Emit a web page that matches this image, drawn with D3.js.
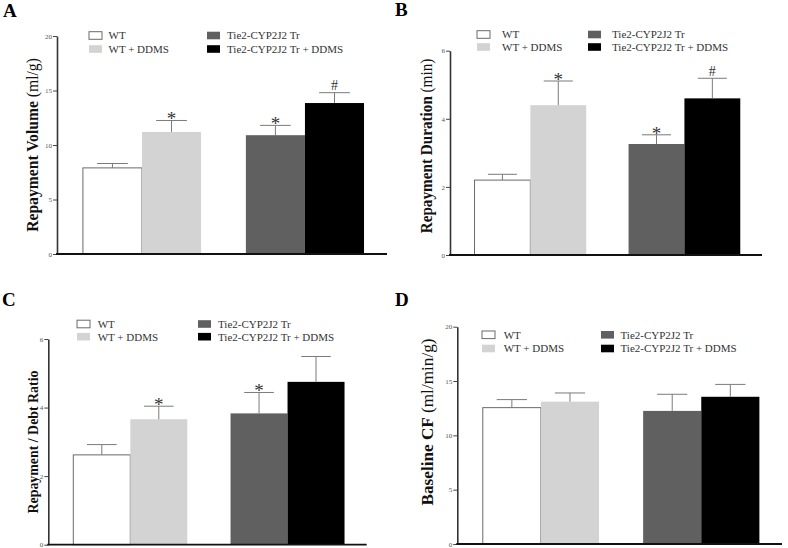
<!DOCTYPE html>
<html>
<head>
<meta charset="utf-8">
<script src="https://cdn.jsdelivr.net/npm/d3@7"></script>
<style>
  body { margin: 0; background: #fff; }
  svg { display: block; }
  text { font-family: "Liberation Serif", "Times New Roman", serif; }
</style>
</head>
<body>
<svg id="chart" width="788" height="548"></svg>
<script>
// groups in the legend / bar order
const groups = ["WT", "WT + DDMS", "Tie2-CYP2J2 Tr", "Tie2-CYP2J2 Tr + DDMS"];
const clusters = ["WT", "Tr"];

// A: repayment volume
const volumeMean = [7.9, 11.2, 10.9, 13.85];
const volumeSem = [0.4, 1.05, 0.9, 0.95];
const volumeMarks = ["", "*", "*", "#"];
const volumeTicks = [0, 5, 10, 15, 20];

// B: repayment duration
const durationMean = [2.2, 4.4, 3.26, 4.6];
const durationSem = [0.17, 0.71, 0.27, 0.59];
const durationMarks = ["", "*", "*", "#"];
const durationTicks = [0, 2, 4, 6];

// C: repayment / debt ratio
const ratioMean = [2.62, 3.66, 3.83, 4.75];
const ratioSem = [0.3, 0.38, 0.61, 0.74];
const ratioMarks = ["", "*", "*", ""];
const ratioTicks = [0, 2, 4, 6];

// D: baseline CF
const cfMean = [12.55, 13.1, 12.25, 13.55];
const cfSem = [0.74, 0.8, 1.53, 1.14];
const cfMarks = ["", "", "", ""];
const cfTicks = [0, 5, 10, 15, 20];

const fills = ["#ffffff", "#d3d3d3", "#606060", "#000000"];

// 各パネルの配置（tlen = y軸ラベルの長さ）
const panels = [
  { letter: "A", lx: 3, ly: 17, left: 57, right: 387, top: 36, bottom: 254,
    mean: volumeMean, sem: volumeSem, marks: volumeMarks, ticks: volumeTicks,
    title: "Repayment Volume", unit: "(ml/g)", tx: 32, ty: 145, tsize: 16.5, tlen: 170,
    legend: { x: 89, y: 35.5, dx: 19.5, x2: 207, dx2: 20, gap: 13.5 } },
  { letter: "B", lx: 395, ly: 16, left: 450, right: 762, top: 50.7, bottom: 255,
    mean: durationMean, sem: durationSem, marks: durationMarks, ticks: durationTicks,
    title: "Repayment Duration", unit: "(min)", tx: 426, ty: 146, tsize: 16.5, tlen: 171,
    legend: { x: 477, y: 34.5, dx: 25, x2: 588, dx2: 24, gap: 12.5 } },
  { letter: "C", lx: 2, ly: 305.5, left: 48.3, right: 366.7, top: 339, bottom: 544.7,
    mean: ratioMean, sem: ratioSem, marks: ratioMarks, ticks: ratioTicks,
    title: "Repayment / Debt Ratio", unit: "", tx: 32.5, ty: 442, tsize: 15, tlen: 143,
    legend: { x: 77, y: 324, dx: 20.7, x2: 198, dx2: 20, gap: 12.7 } },
  { letter: "D", lx: 395, ly: 305.5, left: 457.3, right: 782, top: 326.7, bottom: 544,
    mean: cfMean, sem: cfSem, marks: cfMarks, ticks: cfTicks,
    title: "Baseline CF", unit: "(ml/min/g)", tx: 427, ty: 422, tsize: 16.5, tlen: 163,
    legend: { x: 482, y: 334.8, dx: 21.7, x2: 601, dx2: 19.5, gap: 13.7 } }
];

const svg = d3.select("#chart");

panels.forEach(function(p) {
  let g = svg.append("g");

  let y = d3.scaleLinear()
          .domain(d3.extent(p.ticks))
          .range([p.bottom, p.top]);
  let x0 = d3.scaleBand()
          .domain(clusters)
          .range([p.left, p.right])
          .paddingInner(0.275)
          .paddingOuter(0.15)
          .align(0.53);
  let x1 = d3.scaleBand()
          .domain([0, 1])
          .range([0, x0.bandwidth()]);

  let data = groups.map(function(name, i) {
    return { name: name, i: i, cluster: clusters[i < 2 ? 0 : 1], sub: i % 2,
             mean: p.mean[i], sem: p.sem[i], mark: p.marks[i] };
  });
  let bx = d => x0(d.cluster) + x1(d.sub);
  let cx = d => bx(d) + x1.bandwidth() / 2;

  // バー
  g.selectAll("rect.bar")
    .data(data)
    .join("rect")
    .attr("class", "bar")
    .attr("x", bx)
    .attr("width", x1.bandwidth())
    .attr("y", d => y(d.mean))
    .attr("height", d => y(0) - y(d.mean))
    .attr("fill", d => fills[d.i])
    .attr("stroke", d => d.i === 0 ? "#6a6a6a" : "none")
    .attr("stroke-width", 1);

  // エラーバー（上側のみ）
  let capW = x1.bandwidth() * 0.52;
  g.selectAll("line.err")
    .data(data)
    .join("line")
    .attr("x1", cx).attr("x2", cx)
    .attr("y1", d => y(d.mean)).attr("y2", d => y(d.mean + d.sem))
    .attr("stroke", "#7a7a7a").attr("stroke-width", 1);
  g.selectAll("line.cap")
    .data(data)
    .join("line")
    .attr("x1", d => cx(d) - capW / 2).attr("x2", d => cx(d) + capW / 2)
    .attr("y1", d => y(d.mean + d.sem)).attr("y2", d => y(d.mean + d.sem))
    .attr("stroke", "#7a7a7a").attr("stroke-width", 1);

  // 有意差マーク
  g.selectAll("text.mark")
    .data(data.filter(d => d.mark))
    .join("text")
    .attr("x", cx)
    .attr("y", d => y(d.mean + d.sem) + (d.mark === "*" ? 5 : -2.5))
    .attr("text-anchor", "middle")
    .style("font-size", d => d.mark === "*" ? "19px" : "14px")
    .attr("fill", "#333")
    .text(d => d.mark);

  // y軸
  let yAxis = g.append("g")
    .attr("transform", "translate(" + p.left + ",0)")
    .call(d3.axisLeft(y).tickValues(p.ticks).tickFormat(d3.format("d"))
      .tickSize(4).tickSizeOuter(0).tickPadding(1));
  yAxis.select(".domain").attr("stroke", "#333").attr("stroke-width", 1.6);
  yAxis.selectAll(".tick line").attr("stroke", "#444");
  yAxis.selectAll(".tick text")
    .style("font-size", "7px")
    .attr("fill", "#555");

  // x軸
  g.append("line")
    .attr("x1", p.left - 1).attr("x2", p.right)
    .attr("y1", y(0)).attr("y2", y(0))
    .attr("stroke", "#111").attr("stroke-width", 1.8);

  // y軸ラベル（縦書き、長さを参照図に合わせる）
  let t = g.append("text")
    .attr("text-anchor", "middle")
    .attr("dy", "0.35em")
    .style("font-size", p.tsize + "px")
    .attr("fill", "#111");
  t.append("tspan").style("font-weight", "bold").text(p.title);
  if (p.unit) t.append("tspan").attr("dx", 4).text(p.unit);
  let k = p.tlen / t.node().getComputedTextLength();
  t.attr("transform", "translate(" + p.tx + "," + p.ty + ") rotate(-90) scale(" + k + ",1)");

  // パネル文字
  g.append("text")
    .attr("x", p.lx).attr("y", p.ly)
    .style("font-size", "19px")
    .style("font-weight", "bold")
    .text(p.letter);

  // 凡例
  let L = p.legend;
  groups.forEach(function(name, i) {
    let col = i < 2 ? 0 : 1;
    let row = i % 2;
    let bxp = col ? L.x2 : L.x;
    let dx = col ? L.dx2 : L.dx;
    let cy = L.y + row * L.gap;
    g.append("rect")
      .attr("x", bxp).attr("y", cy - 3.8)
      .attr("width", 13).attr("height", 7.6)
      .attr("fill", fills[i])
      .attr("stroke", i === 0 ? "#6a6a6a" : "none");
    g.append("text")
      .attr("x", bxp + dx).attr("y", cy)
      .attr("dy", "0.35em")
      .style("font-size", "11px")
      .attr("fill", "#333")
      .text(name);
  });
});
</script>
</body>
</html>
